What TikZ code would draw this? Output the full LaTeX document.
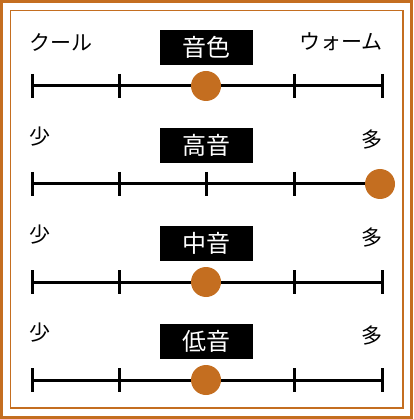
\documentclass[tikz,border=0pt]{standalone}
\usepackage{fontspec}
\newfontfamily\jp{Noto Sans CJK JP}
\definecolor{brn}{HTML}{C46E20}
\begin{document}
\begin{tikzpicture}[x=1pt,y=-1pt,
  frame/.style={draw=brn},
  scaleline/.style={line width=3pt,black},
  tickmark/.style={line width=3pt,black},
  knob/.style={circle,fill=brn,minimum size=30pt,inner sep=0pt},
  titlebox/.style={fill=black,text=white,minimum width=93pt,minimum height=35pt,inner sep=0pt,font=\jp\fontsize{24}{24}\selectfont},
  endlabel/.style={font=\jp\fontsize{21}{21}\selectfont,inner sep=0pt}]
\useasboundingbox (0,0) rectangle (413,419);
\draw[frame,line width=3pt] (1.5,1.5) rectangle (411.5,417.5);
\draw[frame,line width=1.5pt] (10.5,10.5) rectangle (403,408);
\foreach \i/\title/\lft/\rgt/\pos in {1/音色/クール/ウォーム/206, 2/高音/少/多/380, 3/中音/少/多/206, 4/低音/少/多/206}{
  \pgfmathsetmacro{\yy}{86+98*(\i-1)}
  \coordinate (a\i) at (32,\yy);
  \coordinate (b\i) at (382,\yy);
  \draw[scaleline] (a\i) -- (b\i);
  \foreach \x in {32,119,206,294,382}{
    \draw[tickmark] (\x,\yy-12) -- (\x,\yy+12);
  }
  \node[titlebox] (t\i) at (206.5,\yy-38.5) {\title};
  \node[knob] (k\i) at (\pos,\yy) {};
}
\node[endlabel,anchor=west] (l1) at (29,-44+86) {クール};
\node[endlabel,anchor=east] (r1) at (383,-44+86) {ウォーム};
\foreach \i in {2,3,4}{
  \pgfmathsetmacro{\yy}{86+98*(\i-1)}
  \node[endlabel] (l\i) at (40,\yy-47) {少};
  \node[endlabel] (r\i) at (372,\yy-44) {多};
}
\end{tikzpicture}
\end{document}
